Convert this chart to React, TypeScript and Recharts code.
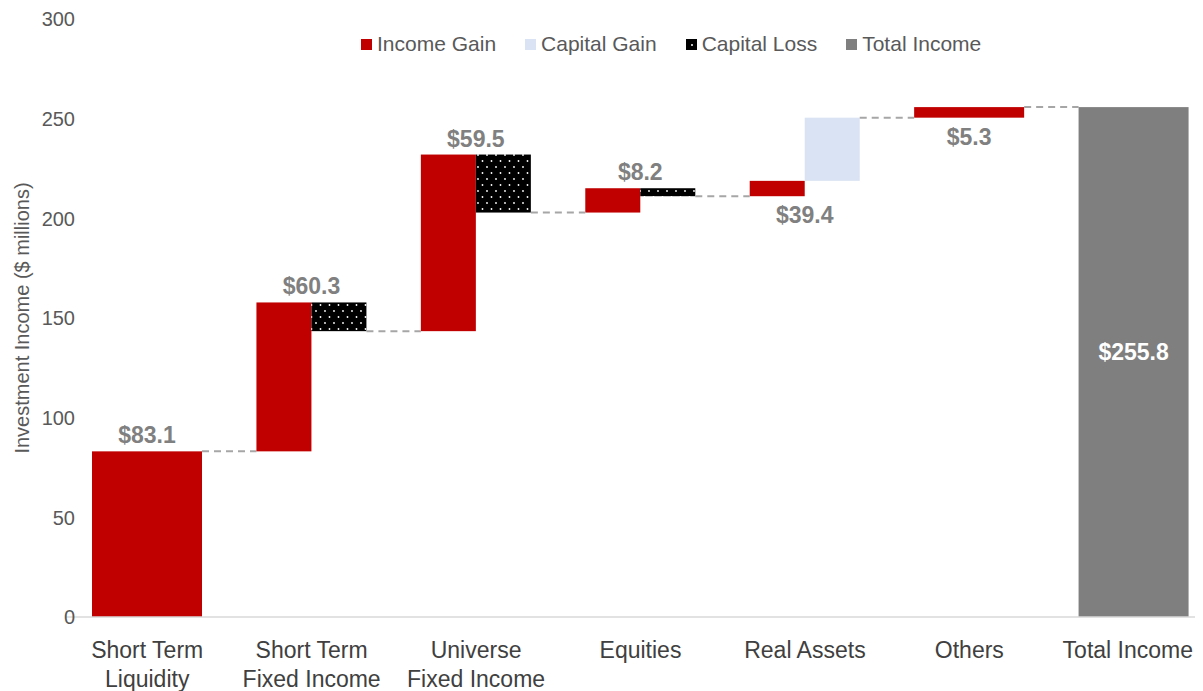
import React from "react";
import { BarChart, Bar, XAxis, YAxis } from "recharts";

const tickLabels = [
  ["Short Term", "Liquidity"],
  ["Short Term", "Fixed Income"],
  ["Universe", "Fixed Income"],
  ["Equities"],
  ["Real Assets"],
  ["Others"],
  ["Total Income"],
];
const categories = tickLabels.map((l) => l.join(" "));
const incomeGain = [83.1, 74.7, 88.6, 12.2, 7.7, 5.3, null];
const capitalChange = [null, -14.4, -29.1, -4.0, 31.7, null, null];
const totalIncome = [null, null, null, null, null, null, 255.8];
const labelPlacement = ["above", "above", "above", "above", "below", "below", "inside"];
const yTicks = [0, 50, 100, 150, 200, 250, 300];

const RED = "#C00000";
const LIGHT_BLUE = "#DAE3F3";
const GREY = "#7F7F7F";
const DASH = "#A6A6A6";
const FONT = "'Liberation Sans', Arial, sans-serif";

const CHART_W = 1230;
const CHART_H = 683;
const VISIBLE_W = 1195;
const MARGIN = { top: 11, right: 22, left: 0, bottom: 0 };
const Y_W = 57;
const X_H = 74;
const BAND = (CHART_W - MARGIN.left - MARGIN.right - Y_W) / categories.length;

// waterfall: each step starts where the previous one ended
let running = 0;
const data = categories.map((name, i) => {
  if (totalIncome[i] != null) {
    return { name, left: [0, totalIncome[i]], right: null, kind: "total", net: totalIncome[i], place: labelPlacement[i] };
  }
  const start = running;
  const mid = start + (incomeGain[i] as number);
  running = mid;
  const c = capitalChange[i];
  let right: number[] | null = null;
  if (c != null) {
    right = c < 0 ? [mid + c, mid] : [mid, mid + c];
    running = mid + c;
  }
  return { name, left: [start, mid], right, capital: c, kind: "step", net: running - start, place: labelPlacement[i] };
});

const fmt = (v: number) => `$${v.toFixed(1)}`;

const LeftShape = (props: any) => {
  const { x, y, width, height, payload } = props;
  const solo = payload.right == null;
  const w = solo ? width * 2 : width;
  const fill = payload.kind === "total" ? GREY : RED;
  const cx = x + width;
  let label = null;
  if (payload.place === "above") {
    label = (
      <text x={cx} y={y - 8} textAnchor="middle" fill="#808080" fontSize={23} fontWeight="bold" fontFamily={FONT}>
        {fmt(payload.net)}
      </text>
    );
  } else if (payload.place === "below") {
    label = (
      <text x={cx} y={y + height + 27} textAnchor="middle" fill="#808080" fontSize={23} fontWeight="bold" fontFamily={FONT}>
        {fmt(payload.net)}
      </text>
    );
  } else {
    label = (
      <text x={cx} y={y + height / 2 - 10} dy="0.35em" textAnchor="middle" fill="#FFFFFF" fontSize={23} fontWeight="bold" fontFamily={FONT}>
        {fmt(payload.net)}
      </text>
    );
  }
  return (
    <g>
      <rect x={x} y={y} width={w} height={height} fill={fill} />
      {solo && payload.kind !== "total" && (
        <line x1={x + w} x2={x + w + (BAND - 2 * width)} y1={y} y2={y} stroke={DASH} strokeWidth={2} strokeDasharray="7 5" />
      )}
      {label}
    </g>
  );
};

const RightShape = (props: any) => {
  const { x, y, width, height, payload } = props;
  if (payload.right == null) return null;
  const loss = payload.capital < 0;
  const level = loss ? y + height : y;
  return (
    <g>
      <rect x={x} y={y} width={width} height={height} fill={loss ? "url(#lossDots)" : LIGHT_BLUE} />
      <line x1={x + width} x2={x + width + (BAND - 2 * width)} y1={level} y2={level} stroke={DASH} strokeWidth={2} strokeDasharray="7 5" />
    </g>
  );
};

const YTick = (props: any) => {
  const { x, y, payload } = props;
  return (
    <text x={x + 10} y={y} dy="0.36em" textAnchor="end" fill="#595959" fontSize={20} fontFamily={FONT}>
      {payload.value}
    </text>
  );
};

const XTick = (props: any) => {
  const { x, y, index } = props;
  const lines = tickLabels[index] || [];
  // keep the last label inside the visible area, like the original
  const last = index === tickLabels.length - 1;
  const tx = last ? VISIBLE_W - 10 : x;
  return (
    <text textAnchor={last ? "end" : "middle"} fill="#404040" fontSize={23} fontFamily={FONT}>
      {lines.map((l, k) => (
        <tspan key={k} x={tx} y={y + 41 + k * 29}>
          {l}
        </tspan>
      ))}
    </text>
  );
};

const YLabel = (props: any) => {
  const { viewBox } = props;
  const cy = viewBox.y + viewBox.height / 2;
  const cx = 14;
  return (
    <text x={cx} y={cy} transform={`rotate(-90 ${cx} ${cy})`} dy="0.35em" textAnchor="middle" fill="#595959" fontSize={20} fontFamily={FONT}>
      Investment Income ($ millions)
    </text>
  );
};

const legendItems = [
  { name: "Income Gain", color: RED },
  { name: "Capital Gain", color: LIGHT_BLUE },
  { name: "Capital Loss", color: "#000000", dot: true },
  { name: "Total Income", color: GREY },
];

const Legend = () => (
  <div
    style={{
      position: "absolute",
      left: 353,
      top: 24,
      display: "flex",
      alignItems: "center",
      fontFamily: FONT,
      fontSize: 21,
      lineHeight: "24px",
      color: "#595959",
      whiteSpace: "nowrap",
    }}
  >
    {legendItems.map((it) => (
      <div key={it.name} style={{ display: "flex", alignItems: "center", marginRight: 29 }}>
        <svg width={11} height={11} style={{ marginRight: 5 }}>
          <rect width={11} height={11} fill={it.color} />
          {it.dot && <circle cx={6} cy={6} r={1} fill="#FFFFFF" />}
        </svg>
        <span>{it.name}</span>
      </div>
    ))}
  </div>
);

export default function App() {
  return (
    <div style={{ position: "relative", width: VISIBLE_W, height: CHART_H, overflow: "hidden" }}>
      <BarChart
        width={CHART_W}
        height={CHART_H}
        data={data}
        margin={MARGIN}
        barCategoryGap={27}
        barGap={0}
      >
        <defs>
          <pattern id="lossDots" width={9} height={12} patternUnits="userSpaceOnUse">
            <rect width={9} height={12} fill="#000000" />
            <circle cx={2} cy={3} r={0.9} fill="#FFFFFF" />
            <circle cx={6.5} cy={9} r={0.9} fill="#FFFFFF" />
          </pattern>
        </defs>
        <XAxis
          dataKey="name"
          height={X_H}
          interval={0}
          tickLine={false}
          tickSize={0}
          tickMargin={0}
          axisLine={{ stroke: "#D9D9D9", strokeWidth: 1.5 }}
          tick={<XTick />}
        />
        <YAxis
          width={Y_W}
          domain={[0, 300]}
          ticks={yTicks}
          axisLine={false}
          tickLine={false}
          tickSize={0}
          tickMargin={0}
          tick={<YTick />}
          label={<YLabel />}
        />
        <Bar dataKey="left" isAnimationActive={false} shape={<LeftShape />} />
        <Bar dataKey="right" isAnimationActive={false} shape={<RightShape />} />
      </BarChart>
      <Legend />
    </div>
  );
}
